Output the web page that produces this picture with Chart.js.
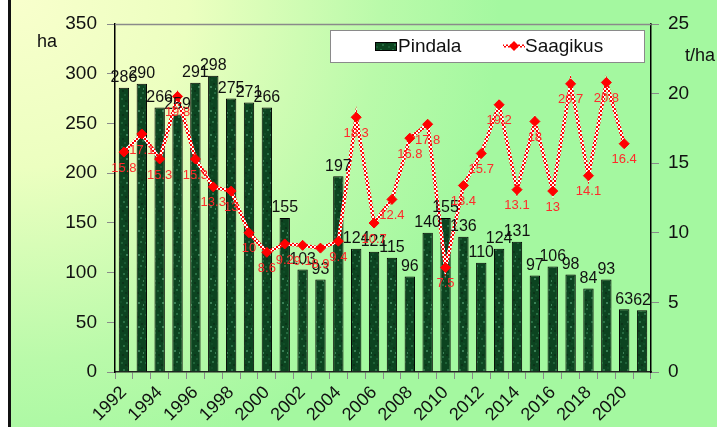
<!DOCTYPE html>
<html>
<head>
<meta charset="utf-8">
<script src="https://cdn.jsdelivr.net/npm/chart.js@4/dist/chart.umd.min.js"></script>
<style>
html,body{margin:0;padding:0;background:#fff;}
#wrap{width:717px;height:427px;position:relative;}
</style>
</head>
<body>
<div id="wrap"><canvas id="c" width="717" height="427"></canvas></div>
<script>
// ---- data ----
const years = ['1992','1993','1994','1995','1996','1997','1998','1999','2000','2001','2002','2003','2004','2005','2006','2007','2008','2009','2010','2011','2012','2013','2014','2015','2016','2017','2018','2019','2020','2021'];
const xTickLabels = ['1992','','1994','','1996','','1998','','2000','','2002','','2004','','2006','','2008','','2010','','2012','','2014','','2016','','2018','','2020',''];
const pindala = [286,290,266,259,291,298,275,271,266,155,103,93,197,124,121,115,96,140,155,136,110,124,131,97,106,98,84,93,63,62];
const saagikus = [15.8,17.1,15.3,19.8,15.3,13.3,13,10,8.6,9.2,9.1,8.9,9.4,18.3,10.7,12.4,16.8,17.8,7.5,13.4,15.7,19.2,13.1,18,13,20.7,14.1,20.8,16.4,null];
const seriesNames = ['Pindala','Saagikus'];
const leftTitle = 'ha';
const rightTitle = 't/ha';

const FONT = '"Liberation Sans", Arial, sans-serif';

// bar texture pattern (deterministic)
function makeBarPattern(){
  const c = document.createElement('canvas'); c.width = 12; c.height = 24;
  const g = c.getContext('2d');
  g.fillStyle = '#0c4420'; g.fillRect(0,0,12,24);
  const pts = [[1,2,'#1f6238'],[5,4,'#0a3519'],[8,1,'#2a7045'],[3,9,'#2a7045'],[9,11,'#0a3519'],[6,14,'#3b8057'],[2,18,'#0a3519'],[10,20,'#256a40'],[4,22,'#1a5a33'],[7,7,'#124d28'],[0,13,'#124d28'],[11,16,'#3b8057']];
  for (const [x,y,col] of pts){ g.fillStyle = col; g.fillRect(x,y,2,2); }
  return g.createPattern(c,'repeat');
}
function makeLinePattern(){
  const c = document.createElement('canvas'); c.width = 4; c.height = 4;
  const g = c.getContext('2d');
  g.fillStyle = '#ff0000'; g.fillRect(0,0,4,4);
  g.fillStyle = '#ffffff'; g.fillRect(0,0,2,2); g.fillRect(2,2,2,2);
  return g.createPattern(c,'repeat');
}

const barPattern = makeBarPattern();
const linePattern = makeLinePattern();

const bgPlugin = {
  id:'bg',
  beforeDraw(chart){
    const ctx = chart.ctx;
    ctx.save();
    ctx.fillStyle = '#ffffff'; ctx.fillRect(0,0,chart.width,chart.height);
    const gr = ctx.createRadialGradient(20,0,0,20,0,480);
    gr.addColorStop(0,'#f8ffcc');
    gr.addColorStop(0.35,'#ecffc0');
    gr.addColorStop(0.75,'#bafaaa');
    gr.addColorStop(1,'#a4f8a0');
    ctx.fillStyle = gr; ctx.fillRect(11,0,chart.width-11,chart.height);
    ctx.fillStyle = '#111'; ctx.fillRect(8,0,3,chart.height);
    ctx.restore();
  },
  beforeDatasetsDraw(chart){
    const ctx = chart.ctx, a = chart.chartArea;
    ctx.save();
    ctx.strokeStyle = '#8a8a8a'; ctx.lineWidth = 1.5;
    ctx.beginPath(); ctx.moveTo(a.left, a.top+0.5); ctx.lineTo(a.right, a.top+0.5); ctx.stroke();
    ctx.restore();
  },
  afterDatasetsDraw(chart){
    const ctx = chart.ctx;
    ctx.save();
    ctx.textAlign = 'center'; ctx.textBaseline = 'middle';
    const m0 = chart.getDatasetMeta(0);
    ctx.font = '16px ' + FONT; ctx.fillStyle = '#111';
    m0.data.forEach((el,i)=>{ ctx.fillText(String(pindala[i]), el.x, el.y - 10); });
    const m1 = chart.getDatasetMeta(1);
    ctx.font = '13px ' + FONT; ctx.fillStyle = '#ff2a2a';
    m1.data.forEach((el,i)=>{ if (saagikus[i]!==null) ctx.fillText(String(saagikus[i]), el.x, el.y + 16); });
    // axis titles
    ctx.fillStyle = '#111'; ctx.font = '18px ' + FONT;
    ctx.fillText(leftTitle, 47, 42);
    ctx.fillText(rightTitle, 700, 56);
    // legend
    ctx.fillStyle = '#ffffff'; ctx.fillRect(330,30,315,33);
    ctx.strokeStyle = '#8a8a8a'; ctx.lineWidth = 1; ctx.strokeRect(330.5,30.5,314,32);
    ctx.fillStyle = barPattern; ctx.fillRect(375,42,22,9);
    ctx.strokeStyle = '#000'; ctx.strokeRect(375.5,42.5,21,8);
    ctx.textAlign = 'left'; ctx.fillStyle = '#111'; ctx.font = '19px ' + FONT;
    ctx.fillText(seriesNames[0], 398, 47);
    ctx.strokeStyle = linePattern; ctx.lineWidth = 3;
    ctx.beginPath(); ctx.moveTo(503,46); ctx.lineTo(525,46); ctx.stroke();
    ctx.fillStyle = '#ff0000';
    ctx.beginPath(); ctx.moveTo(514,41); ctx.lineTo(519,46); ctx.lineTo(514,51); ctx.lineTo(509,46); ctx.closePath(); ctx.fill();
    ctx.fillStyle = '#111';
    ctx.fillText(seriesNames[1], 525, 47);
    ctx.restore();
  }
};

new Chart(document.getElementById('c'), {
  type:'bar',
  data:{
    labels: years,
    datasets:[
      { label: seriesNames[0], data: pindala, yAxisID:'y', backgroundColor: barPattern, borderColor:'#000', borderWidth:1, barPercentage:0.58, categoryPercentage:1.0, order:2 },
      { label: seriesNames[1], type:'line', data: saagikus, yAxisID:'y1', borderColor: linePattern, borderWidth:3.5, pointStyle:'rectRot', pointRadius:5, pointBackgroundColor:'#ff0000', pointBorderColor:'#ff0000', pointBorderWidth:1, spanGaps:false, tension:0, order:1 }
    ]
  },
  options:{
    responsive:false, animation:false,
    devicePixelRatio:1,
    layout:{ padding:{ left:11, top:24, right:0, bottom:0 } },
    plugins:{ legend:{ display:false }, tooltip:{ enabled:false } },
    scales:{
      x:{
        offset:true,
        grid:{ offset:true, drawOnChartArea:false, drawTicks:true, tickLength:7, color:'#8a8a8a' },
        border:{ color:'#222', width:1.5 },
        ticks:{ autoSkip:false, minRotation:45, maxRotation:45, padding:3, color:'#111', font:{ family:FONT, size:18 },
          callback:(v,i)=>xTickLabels[i] },
        afterFit(s){ s.height = 55; }
      },
      y:{
        position:'left', min:0, max:350,
        grid:{ drawOnChartArea:false, drawTicks:true, tickLength:8, color:'#8a8a8a' },
        border:{ color:'#000', width:1.5 },
        ticks:{ stepSize:50, padding:10, color:'#111', font:{ family:FONT, size:19 } },
        afterFit(s){ s.width = 104; }
      },
      y1:{
        position:'right', min:0, max:25,
        grid:{ drawOnChartArea:false, drawTicks:true, tickLength:8, color:'#8a8a8a' },
        border:{ color:'#000', width:1.5 },
        ticks:{ stepSize:5, padding:9, color:'#111', font:{ family:FONT, size:19 } },
        afterFit(s){ s.width = 66; }
      }
    }
  },
  plugins:[bgPlugin]
});
</script>
</body>
</html>
